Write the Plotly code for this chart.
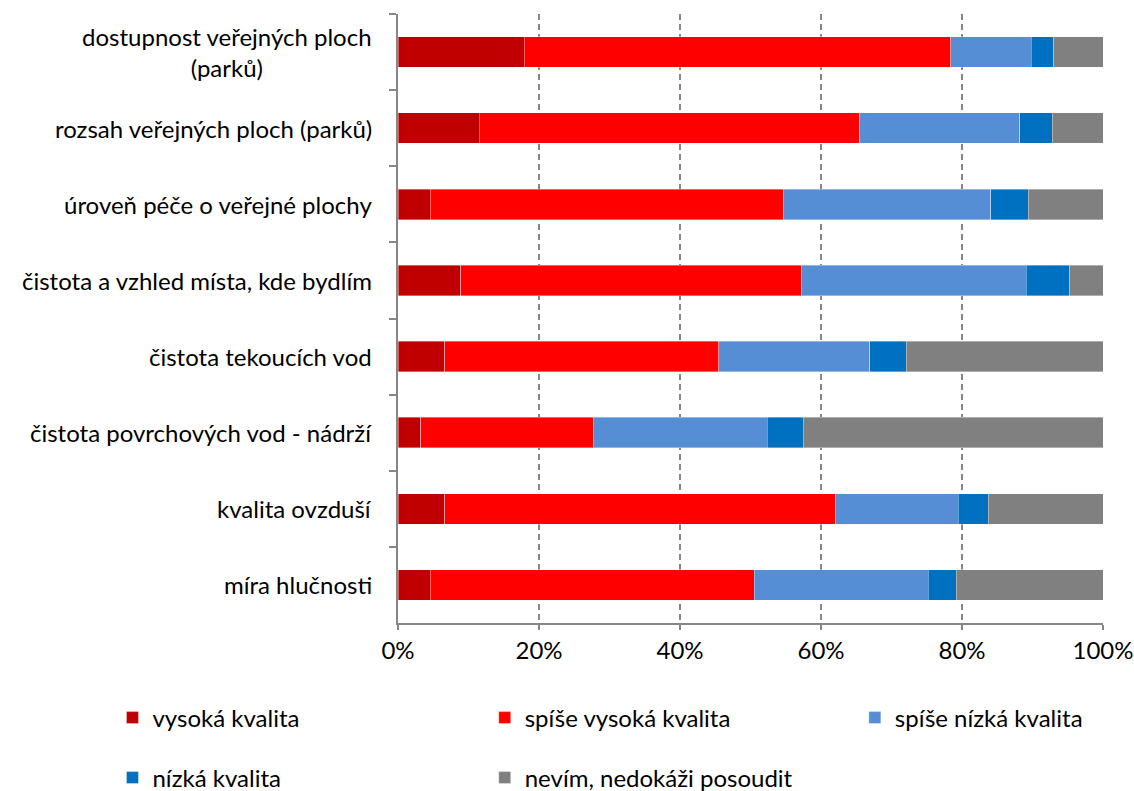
import plotly.graph_objects as go

# Survey items, listed top to bottom
categories = [
    "dostupnost veřejných ploch<br>(parků)",
    "rozsah veřejných ploch (parků)",
    "úroveň péče o veřejné plochy",
    "čistota a vzhled místa, kde bydlím",
    "čistota tekoucích vod",
    "čistota povrchových vod - nádrží",
    "kvalita ovzduší",
    "míra hlučnosti",
]

# Shares of answers (%) per item
vysoka = [17.9, 11.5, 4.6, 8.9, 6.6, 3.2, 6.6, 4.6]
spise_vysoka = [60.5, 54.0, 50.1, 48.4, 38.9, 24.5, 55.5, 45.9]
spise_nizka = [11.4, 22.7, 29.4, 31.8, 21.4, 24.7, 17.4, 24.7]
nizka = [3.2, 4.6, 5.3, 6.2, 5.2, 5.1, 4.2, 4.0]
nevim = [7.0, 7.2, 10.6, 4.7, 27.9, 42.5, 16.3, 20.8]

x_ticks = [0, 20, 40, 60, 80, 100]
x_tick_labels = ["0%", "20%", "40%", "60%", "80%", "100%"]

series = [
    ("vysoká kvalita", vysoka, "#C00000"),
    ("spíše vysoká kvalita", spise_vysoka, "#FF0000"),
    ("spíše nízká kvalita", spise_nizka, "#558ED5"),
    ("nízká kvalita", nizka, "#0070C0"),
    ("nevím, nedokáži posoudit", nevim, "#808080"),
]

FONT = "Lato, 'Open Sans', sans-serif"
FSIZE = 24
AXIS_GRAY = "#868686"

# Each legend entry gets its own legend box, laid out in a 3-column grid
# (x, y in paper coordinates)
legend_slots = [
    (-0.405, -0.156),
    (0.123, -0.156),
    (0.648, -0.156),
    (-0.405, -0.2545),
    (0.123, -0.2545),
]

fig = go.Figure()
layout_legends = {}
for i, ((name, vals, color), (lx, ly)) in enumerate(zip(series, legend_slots)):
    leg = "legend" if i == 0 else f"legend{i + 1}"
    fig.add_trace(go.Bar(
        y=categories,
        x=vals,
        name=name,
        orientation="h",
        marker=dict(color=color, line=dict(color="rgba(255,255,255,0.45)", width=0.8)),
        legend=leg,
        showlegend=True,
        hoverinfo="x+name",
    ))
    layout_legends[leg] = dict(
        x=lx, y=ly,
        xanchor="left", yanchor="middle",
        orientation="h",
        font=dict(family=FONT, size=FSIZE, color="#000000"),
        bgcolor="rgba(0,0,0,0)",
    )

# Category labels, centred line by line beside the axis
for cat in categories:
    fig.add_annotation(
        x=0, y=cat, xref="paper", yref="y",
        text=cat, showarrow=False,
        xanchor="right", yanchor="middle", align="center",
        xshift=-24,
        font=dict(family=FONT, size=FSIZE, color="#000000"),
    )

fig.update_layout(
    width=1134,
    height=791,
    margin=dict(l=398, r=31, t=14, b=168, autoexpand=False),
    paper_bgcolor="white",
    plot_bgcolor="white",
    showlegend=True,
    barmode="stack",
    bargap=0.6,
    font=dict(family=FONT, size=FSIZE, color="#000000"),
    xaxis=dict(
        range=[0, 100],
        tickmode="array",
        tickvals=x_ticks,
        ticktext=x_tick_labels,
        showgrid=True,
        gridcolor=AXIS_GRAY,
        gridwidth=1.5,
        griddash="6px,4px",
        showline=True,
        linecolor=AXIS_GRAY,
        linewidth=1.5,
        ticks="outside",
        ticklen=5,
        tickcolor=AXIS_GRAY,
        tickwidth=1.5,
        zeroline=False,
        tickfont=dict(family=FONT, size=FSIZE, color="#000000"),
        fixedrange=True,
    ),
    yaxis=dict(
        categoryorder="array",
        categoryarray=categories,
        autorange="reversed",
        showticklabels=False,
        showline=True,
        linecolor=AXIS_GRAY,
        linewidth=1.5,
        ticks="outside",
        tickson="boundaries",
        ticklen=7,
        tickcolor=AXIS_GRAY,
        tickwidth=1.5,
        showgrid=False,
        fixedrange=True,
    ),
    **layout_legends,
)

fig.write_html("out.html", config={"displayModeBar": False})
